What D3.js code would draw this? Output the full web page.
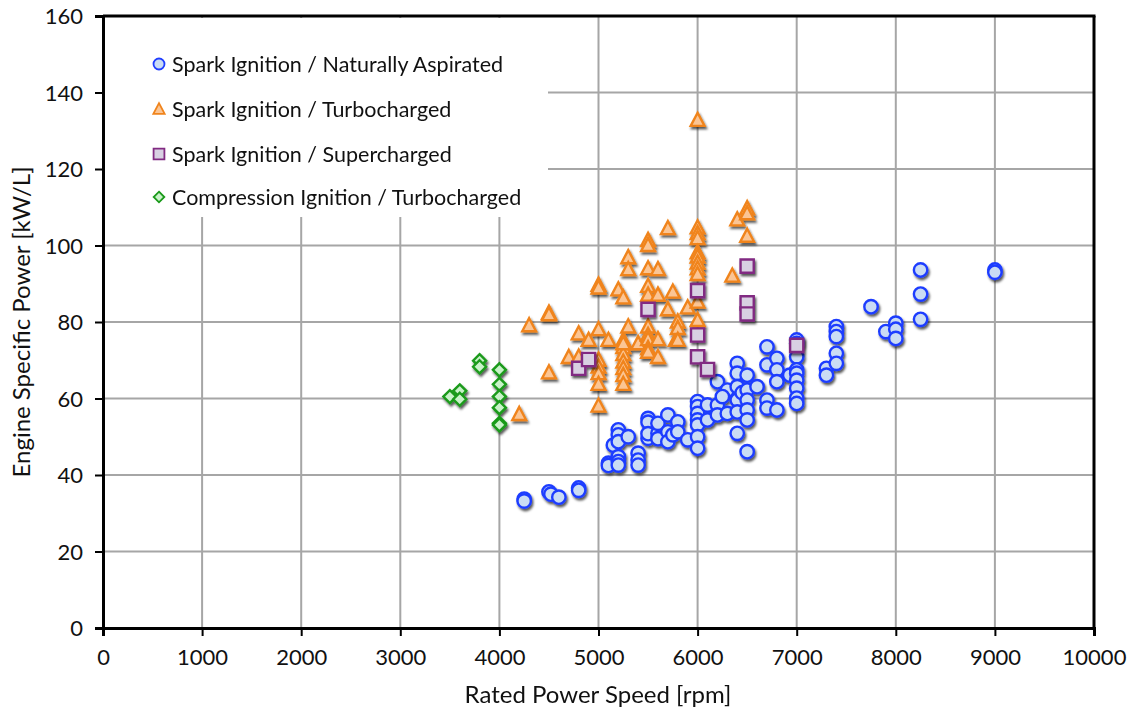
<!DOCTYPE html>
<html><head><meta charset="utf-8">
<script src="https://cdn.jsdelivr.net/npm/d3@7"></script>
<style>
html,body{margin:0;padding:0;background:#fff;}
text{font-family:Lato,"Open Sans",sans-serif;fill:#111;}
</style></head>
<body>
<svg id="chart" width="1137" height="715"></svg>
<script>
// ---------- data ----------
const seriesNames = ["Spark Ignition / Naturally Aspirated","Spark Ignition / Turbocharged","Spark Ignition / Supercharged","Compression Ignition / Turbocharged"];
const xTicks = [0,1000,2000,3000,4000,5000,6000,7000,8000,9000,10000];
const yTicks = [0,20,40,60,80,100,120,140,160];

const naPoints = [
 [4250,33.7],[4250,33.2],[4500,35.6],[4520,35.0],[4600,34.2],[4800,36.6],[4800,36.0],
 [5100,43.1],[5100,42.5],[5150,47.8],[5200,51.8],[5200,50.5],[5200,48.7],[5200,44.8],[5200,43.5],[5200,42.6],
 [5300,50.0],[5400,45.7],[5400,43.9],[5400,42.6],[5500,54.8],[5500,53.8],[5500,49.6],[5500,50.8],
 [5600,50.9],[5600,53.5],[5600,49.5],[5700,55.7],[5700,51.3],[5700,48.7],[5750,50.5],[5800,53.9],[5800,51.3],[5900,49.2],
 [6000,59.2],[6000,57.9],[6000,56.1],[6000,54.4],[6000,53.1],[6000,50.0],[6000,47.0],
 [6100,58.3],[6100,54.4],[6200,64.4],[6200,58.3],[6200,55.7],[6300,62.2],[6300,56.1],[6250,60.5],
 [6400,69.2],[6400,66.6],[6400,63.1],[6400,59.6],[6400,56.5],[6400,50.9],[6450,61.5],
 [6500,66.1],[6500,62.2],[6500,59.6],[6500,57.0],[6500,54.4],[6500,46.1],[6600,63.1],
 [6700,73.5],[6700,68.8],[6700,59.6],[6700,57.5],[6800,70.5],[6800,67.5],[6800,64.4],[6800,57.0],
 [6930,66.1],[7000,75.3],[7000,74.4],[7000,70.9],[7000,67.5],[7000,66.6],[7000,64.8],[7000,62.7],[7000,60.1],[7000,58.7],
 [7300,67.9],[7300,66.1],[7400,78.8],[7400,77.5],[7400,76.2],[7400,71.8],[7400,69.2],
 [7750,84.0],[7900,77.5],[8000,79.7],[8000,78.1],[8000,75.7],
 [8250,93.6],[8250,87.3],[8250,80.7],[9000,93.6],[9000,93.0]
];
const turboPoints = [
 [4200,55.9],[4300,79.1],[4500,82.4],[4500,82.0],[4500,66.8],[4700,70.8],[4800,77.0],[4800,70.9],[4900,75.3],
 [5000,89.7],[5000,89.0],[5000,78.1],[5000,70.1],[5000,68.3],[5000,66.6],[5000,63.8],[5000,58.1],
 [5100,75.3],[5200,88.5],[5250,86.4],[5250,75.3],[5250,73.4],[5250,71.6],[5250,69.6],[5250,67.9],[5250,66.1],[5250,63.8],[5250,74.4],
 [5300,96.9],[5300,93.8],[5300,78.8],[5400,74.4],
 [5500,101.4],[5500,100.1],[5500,94.0],[5500,89.4],[5500,87.1],[5500,78.8],[5500,76.6],[5500,75.5],[5500,73.1],[5500,72.2],
 [5600,93.8],[5600,87.1],[5600,75.5],[5600,70.8],[5700,104.5],[5700,83.3],[5750,87.9],[5780,75.3],
 [5800,80.1],[5800,78.4],[5800,75.3],[5900,83.8],
 [6000,132.8],[6000,104.7],[6000,103.2],[6000,101.9],[6000,98.2],[6000,97.1],[6000,95.5],[6000,94.0],[6000,92.5],[6000,85.3],[6000,80.5],
 [6350,92.1],[6400,106.8],[6500,109.7],[6500,108.4],[6500,102.5]
];
const superPoints = [
 [4800,67.9],[4900,70.2],[5500,83.3],[6000,88.2],[6000,76.6],[6000,70.9],[6100,67.6],
 [6500,94.6],[6500,85.0],[6500,82.1],[7000,73.9]
];
const ciPoints = [
 [3500,60.5],[3600,62.0],[3600,59.8],[3800,69.9],[3800,68.3],
 [4000,67.5],[4000,63.7],[4000,60.5],[4000,57.6],[4000,53.5],[4000,53.1]
];

// ---------- layout ----------
const svg = d3.select("#chart");
const L = 103, R = 1094, T = 16, B = 628;
const x = d3.scaleLinear().domain([0,10000]).range([L,R]);
const y = d3.scaleLinear().domain([0,160]).range([B,T]);

const defs = svg.append("defs");
const f = defs.append("filter").attr("id","shadow").attr("x","-50%").attr("y","-50%").attr("width","200%").attr("height","200%");
f.append("feDropShadow").attr("dx",1.4).attr("dy",2.4).attr("stdDeviation",1.2).attr("flood-color","#000").attr("flood-opacity",0.65);

// grid
svg.append("g").selectAll("line").data(xTicks.slice(1,-1)).join("line")
  .attr("x1",d=>x(d)).attr("x2",d=>x(d)).attr("y1",T).attr("y2",B)
  .attr("stroke","#a6a6a6").attr("stroke-width",2);
svg.append("g").selectAll("line").data(yTicks.slice(1,-1)).join("line")
  .attr("y1",d=>y(d)).attr("y2",d=>y(d)).attr("x1",L).attr("x2",R)
  .attr("stroke","#a6a6a6").attr("stroke-width",2);

// legend background (covers grid)
svg.append("rect").attr("x",L+2).attr("y",T+2).attr("width",548-L-2).attr("height",217-T-2).attr("fill","#fff");

// symbols (size = nominal width)
const tri = {draw(ctx,s){const h=s/2;ctx.moveTo(0,-h*1.05);ctx.lineTo(h,h*0.85);ctx.lineTo(-h,h*0.85);ctx.closePath();}};
const dia = {draw(ctx,s){const h=s/2;ctx.moveTo(0,-h);ctx.lineTo(h,0);ctx.lineTo(0,h);ctx.lineTo(-h,0);ctx.closePath();}};
const sq  = {draw(ctx,s){const h=s/2;ctx.rect(-h,-h,s,s);}};
const circ= {draw(ctx,s){const r=s/2;ctx.moveTo(r,0);ctx.arc(0,0,r,0,2*Math.PI);}};

const styles = [
 {data:naPoints,    type:circ, size:13.4, fill:"#cadcf4", stroke:"#1f3dff"},
 {data:turboPoints, type:tri,  size:13.8, fill:"#fbc594", stroke:"#f0841c"},
 {data:superPoints, type:sq,   size:13.2, fill:"#d8d0e2", stroke:"#812a82"},
 {data:ciPoints,    type:dia,  size:13,   fill:"#c9f2c9", stroke:"#1a9a1a"}
];
function symPath(st,k){ return d3.symbol().type(st.type).size(st.size*(k||1))(); }

styles.forEach(st=>{
  svg.append("g").attr("filter","url(#shadow)").selectAll("path").data(st.data).join("path")
    .attr("d",symPath(st))
    .attr("transform",d=>`translate(${x(d[0])},${y(d[1])})`)
    .attr("fill",st.fill).attr("stroke",st.stroke).attr("stroke-width",2.4);
});

// axes
const xAxis = svg.append("g").attr("transform",`translate(0,${B})`)
  .call(d3.axisBottom(x).tickValues(xTicks).tickSize(8).tickPadding(13).tickFormat(d3.format("d")));
const yAxis = svg.append("g").attr("transform",`translate(${L},0)`)
  .call(d3.axisLeft(y).tickValues(yTicks).tickSize(8).tickPadding(12).tickFormat(d3.format("d")));
[xAxis,yAxis].forEach(a=>{
  a.select(".domain").attr("stroke","#000").attr("stroke-width",3);
  a.selectAll(".tick line").attr("stroke","#000").attr("stroke-width",2);
  a.selectAll(".tick text").style("font-family","Lato, 'Open Sans', sans-serif").style("font-size","22px").attr("fill","#111");
});
yAxis.selectAll(".tick text").attr("dy","0.36em");
// frame top/right
svg.append("line").attr("x1",L).attr("x2",R+1.5).attr("y1",T).attr("y2",T).attr("stroke","#000").attr("stroke-width",3);
svg.append("line").attr("x1",R).attr("x2",R).attr("y1",T).attr("y2",B).attr("stroke","#000").attr("stroke-width",3);

// axis titles
svg.append("text").attr("x",598).attr("y",703).attr("text-anchor","middle")
  .style("font-size","24px").text("Rated Power Speed [rpm]");
svg.append("text").attr("transform",`translate(30,322) rotate(-90)`).attr("text-anchor","middle")
  .style("font-size","24px").text("Engine Specific Power [kW/L]");

// legend
const legY = [64,109,154,197];
const lg = svg.append("g");
styles.forEach((st,i)=>{
  lg.append("path").attr("d",symPath(st,0.82))
    .attr("transform",`translate(159,${legY[i]})`)
    .attr("fill",st.fill).attr("stroke",st.stroke).attr("stroke-width",1.8);
  lg.append("text").attr("x",172).attr("y",legY[i]).attr("dy","0.35em")
    .style("font-size","21.5px").text(seriesNames[i]);
});
</script>
</body></html>
